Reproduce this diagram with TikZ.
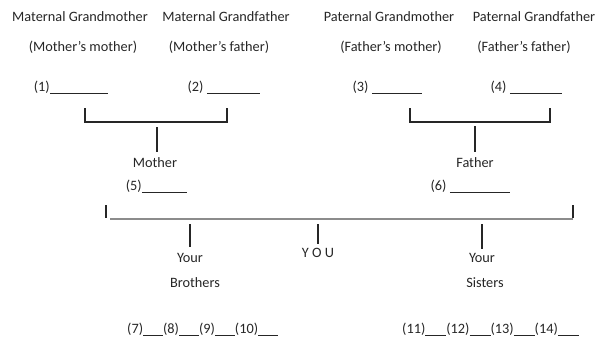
\documentclass[tikz,border=0pt]{standalone}
\usepackage{fontspec}
\setmainfont{Carlito}
\usetikzlibrary{positioning}
\newcommand{\blank}[1]{\rule[-2.5pt]{#1}{1.1pt}}

\begin{document}
\begin{tikzpicture}[x=1pt, y=-1pt,
  txt/.style={font=\fontsize{14.3}{17}\selectfont, text=black!85, inner sep=0pt},
  slot/.style={txt, anchor=east},
  row/.style={txt, anchor=west},
  bar/.style={line width=1.1pt, black!85},
  sib/.style={line width=1.4pt, black!45}
]
\useasboundingbox (0,0) rectangle (600,343);

% grandparents
\node[txt] (mgm)  at (80,17)  {Maternal Grandmother};
\node[txt] (mgmr) at (83,47)  {(Mother's mother)};
\node[txt] (mgf)  at (226,17) {Maternal Grandfather};
\node[txt] (mgfr) at (219,47) {(Mother's father)};
\node[txt] (pgm)  at (389,17) {Paternal Grandmother};
\node[txt] (pgmr) at (391,47) {(Father's mother)};
\node[txt] (pgf)  at (534,17) {Paternal Grandfather};
\node[txt] (pgfr) at (524,47) {(Father's father)};

\node[slot] (s1) at (108,88) {(1)\blank{58pt}};
\node[slot] (s2) at (260,88) {(2) \blank{53pt}};
\node[slot] (s3) at (422,88) {(3) \blank{50pt}};
\node[slot] (s4) at (562,88) {(4) \blank{52pt}};

% parents
\coordinate (mj) at (157,122);
\coordinate (pj) at (475,122);
\draw[bar] (85,108) |- (mj) -| (227,108);
\draw[bar] (410,108) |- (pj) -| (550,108);

\node[txt] (mother) at (155,163) {Mother};
\node[txt] (father) at (475,163) {Father};
\draw[bar, shorten <=5pt, shorten >=6pt] (mj) -- (mj |- mother.north);
\draw[bar, shorten <=4pt, shorten >=6pt] (pj) -- (pj |- father.north);

\node[slot] (s5) at (187,187) {(5)\blank{45pt}};
\node[slot] (s6) at (510,187) {(6) \blank{60pt}};

% children
\coordinate (kl) at (106,205);
\coordinate (kr) at (573,205);
\draw[bar] (kl) -- ++(0,13);
\draw[bar] (kr) -- ++(0,13);
\draw[sib] (kl) ++(4,14) coordinate (kline) -- (kr |- kline);

\node[txt] (byour) at (190,258) {Your};
\node[txt] (bros)  at (195,283) {Brothers};
\node[txt] (you)   at (318,253) {Y O U};
\node[txt] (syour) at (482,258) {Your};
\node[txt] (sis)   at (485,283) {Sisters};

\draw[bar, shorten <=5pt, shorten >=6pt] (byour |- kline) -- (byour.north);
\draw[bar, shorten <=5pt, shorten >=4pt] (you |- kline) -- (you.north);
\draw[bar, shorten <=5pt, shorten >=4pt] (syour |- kline) -- (syour.north);

\node[row] (brow) at (127,330)
  {(7)\blank{20pt}(8)\blank{20pt}(9)\blank{20pt}(10)\blank{20pt}};
\node[row] (srow) at (402,330)
  {(11)\blank{21pt}(12)\blank{21pt}(13)\blank{21pt}(14)\blank{21pt}};
\end{tikzpicture}
\end{document}
